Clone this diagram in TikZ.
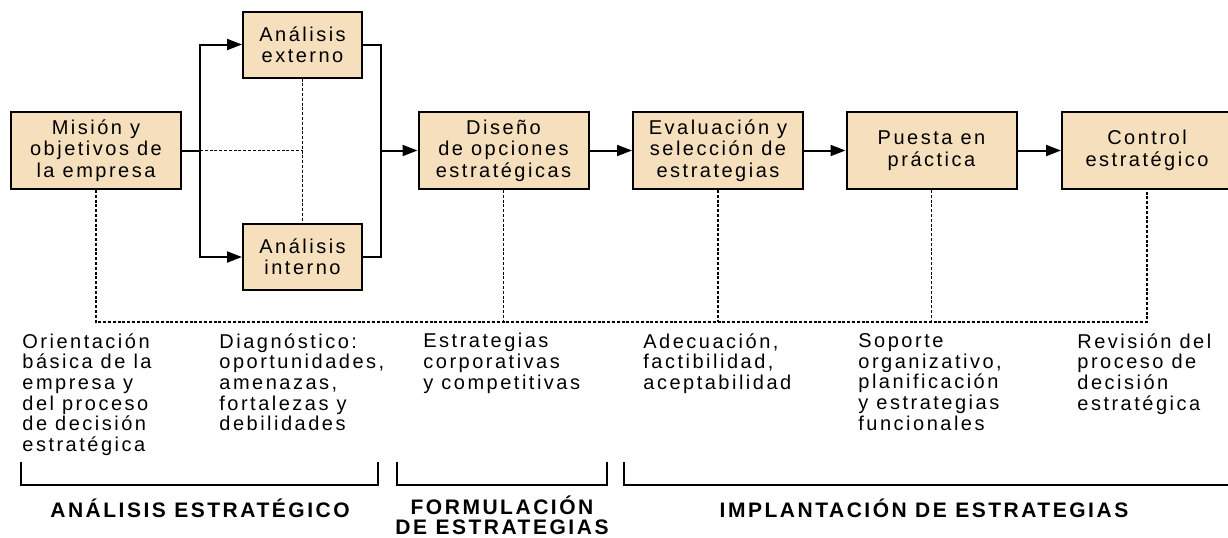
\documentclass[tikz,border=0pt]{standalone}
\usepackage{fontspec}
\setmainfont[LetterSpace=12.5]{Liberation Sans}
\usetikzlibrary{arrows.meta}
\definecolor{boxfill}{RGB}{245,223,188}
\begin{document}
\begin{tikzpicture}[x=0.5pt,y=-0.5pt]

    \tikzset{
      stage/.style={
        draw,
        fill=boxfill,
        line width=1pt,
        align=center,
        inner sep=0pt,
        minimum width=85pt,
        minimum height=38.5pt,
        font=\fontsize{10}{10.7}\selectfont,
      },
      side/.style={
        stage,
        minimum width=59.5pt,
        minimum height=33pt,
      },
      note/.style={
        anchor = north west,
        align=left,
        inner sep=0pt,
        font=\fontsize{10}{10.35}\selectfont,
      },
      phase/.style={
        anchor = center,
        align=center,
        inner sep=0pt,
        font=\fontsize{10.5}{10}\selectfont\bfseries\addfontfeature{LetterSpace=12},
      },
      flow/.style={line width=1pt,-{Triangle[length=7.5pt,width=5.5pt]}},
      link/.style={line width=1pt},
      guide/.style={line width=0.9pt,dash pattern=on 1.5pt off 0.9pt},
    }
    \clip (0,0) rectangle (1228,537);
	% stages
	\node[stage] (mision) at (96,150.5) {Misión y\\objetivos de\\la empresa};
	\node[side] (externo) at (302.5,44.5) {Análisis\\externo};
	\node[side] (interno) at (302.5,257) {Análisis\\interno};
	\node[stage] (diseno) at (503.5,150.5) {Diseño\\de opciones\\estratégicas};
	\node[stage] (evaluacion) at (718,150.5) {Evaluación y\\selección de\\estrategias};
	\node[stage] (puesta) at (931.5,150.5) {Puesta en\\práctica};
	\node[stage] (control) at (1147,150.5) {Control\\estratégico};

	\coordinate (split) at (200,150.5);
	\coordinate (merge) at (381,150.5);
	\coordinate (bus) at (0,322);
	\draw[link] (mision.east) -- (split);
	\draw[flow] (split) |- (externo.west);
	\draw[flow] (split) |- (interno.west);
	\draw[link] (externo.east) -| (merge) |- (interno.east);
	\draw[flow] (merge) -- (diseno.west);
	\draw[guide] (split) -- (split -| externo.south);
	\draw[guide] (externo.south) -- (interno.north);
	\draw[flow] (diseno) -- (evaluacion);
	\draw[flow] (evaluacion) -- (puesta);
	\draw[flow] (puesta) -- (control);

	\draw[guide] (mision.south) -- (mision.south |- bus) -- (control.south |- bus) -- (control.south);
	\foreach \n in {diseno,evaluacion,puesta}
	  \draw[guide] (\n.south) -- (\n.south |- bus);

	% notes under the bus
	\node[note] (orientacion) at (22,333) {Orientación\\básica de la\\empresa y\\del proceso\\de decisión\\estratégica};
	\node[note] (diagnostico) at (219,333) {Diagnóstico:\\oportunidades,\\amenazas,\\fortalezas y\\debilidades};
	\node[note] (estrategias) at (423,333) {Estrategias\\corporativas\\y competitivas};
	\node[note] (adecuacion) at (643,333) {Adecuación,\\factibilidad,\\aceptabilidad};
	\node[note] (soporte) at (858,333) {Soporte\\organizativo,\\planificación\\y estrategias\\funcionales};
	\node[note] (revision) at (1077,333) {Revisión del\\proceso de\\decisión\\estratégica};

	% phases
	\draw[link] (21,462) -- (21,485) -- (378,485) -- (378,462);
	\draw[link] (397,462) -- (397,485) -- (607,485) -- (607,462);
	\draw[link] (624,462) -- (624,485) -- (1228,485);
	\node[phase] (analisis) at (200,508) {ANÁLISIS ESTRATÉGICO};
	\node[phase] (formulacion) at (502,515) {FORMULACIÓN\\DE ESTRATEGIAS};
	\node[phase] (implantacion) at (924,508) {IMPLANTACIÓN DE ESTRATEGIAS};

\end{tikzpicture}
\end{document}
